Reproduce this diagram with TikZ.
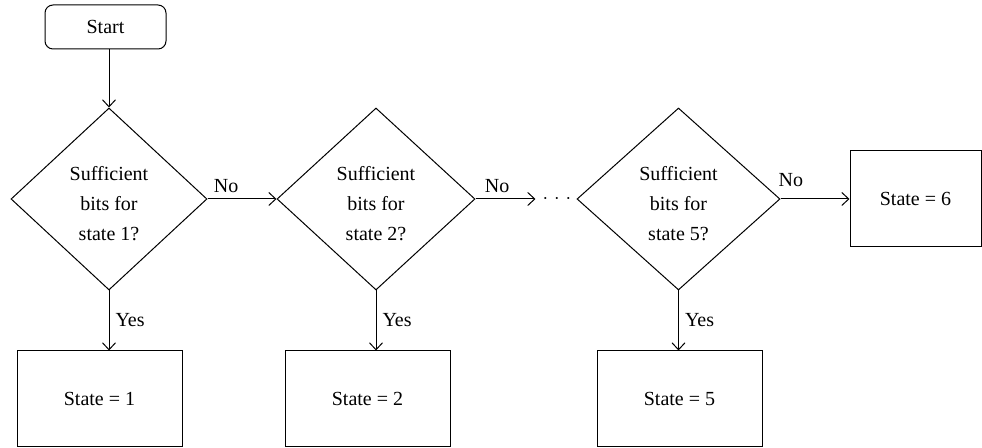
\documentclass[tikz,border=0pt]{standalone}
\usepackage{fontspec}
\setmainfont{Liberation Serif}
\usetikzlibrary{shapes.geometric,arrows.meta}
\begin{document}
\begin{tikzpicture}[x=0.5pt,y=-0.5pt, line width=0.5pt,
  every node/.style={font=\fontsize{10}{15}\selectfont},
  startbox/.style={draw, rounded corners=4pt, minimum width=60.5pt, minimum height=22pt, inner sep=0pt},
  decision/.style={draw, diamond, aspect=1, inner sep=0pt, minimum height=91pt, align=center},
  statebox/.style={draw, minimum width=82.5pt, minimum height=48pt, inner sep=0pt},
  arr/.style={-{Straight Barb[length=3.5pt,width=6.5pt]}},
  lbl/.style={inner sep=3pt}
]
\useasboundingbox (0,0) rectangle (982,448);

\node[startbox] (start) at (105.5,27) {Start};

\node[decision, minimum width=98pt] (d1) at (109,199) {\rule{0pt}{12pt}Sufficient\\bits for\\state 1?};
\node[decision, minimum width=99pt] (d2) at (376,199) {\rule{0pt}{12pt}Sufficient\\bits for\\state 2?};
\node[decision, minimum width=101.5pt] (d3) at (678.5,199) {\rule{0pt}{12pt}Sufficient\\bits for\\state 5?};

\node[inner sep=0pt, inner xsep=3.35pt, text height=5pt, text depth=0pt] (dots) at (557,199)
  {$\cdot$\hspace{3pt}$\cdot$\hspace{3pt}$\cdot$};

\node[statebox] (b1) at (99.5,399) {State = 1};
\node[statebox] (b2) at (367.5,399) {State = 2};
\node[statebox] (b3) at (679.5,399) {State = 5};
\node[statebox, minimum width=65.5pt] (s6) at (915.5,199) {State = 6};

\draw[arr] (start.south -| d1.north) -- (d1.north);

\draw[arr] (d1.south) -- node[lbl, anchor=west]{Yes} (d1.south |- b1.north);
\draw[arr] (d2.south) -- node[lbl, anchor=west]{Yes} (d2.south |- b2.north);
\draw[arr] (d3.south) -- node[lbl, anchor=west]{Yes} (d3.south |- b3.north);

\draw[arr] (d1.east) -- node[lbl, anchor=south, pos=0.27]{No} (d2.west);
\draw[arr] (d2.east) -- node[lbl, anchor=south, pos=0.36]{No} (dots.west);
\draw[arr] (d3.east) -- node[lbl, anchor=south, pos=0.15, yshift=3pt]{No} (d3.east -| s6.west);
\end{tikzpicture}
\end{document}
